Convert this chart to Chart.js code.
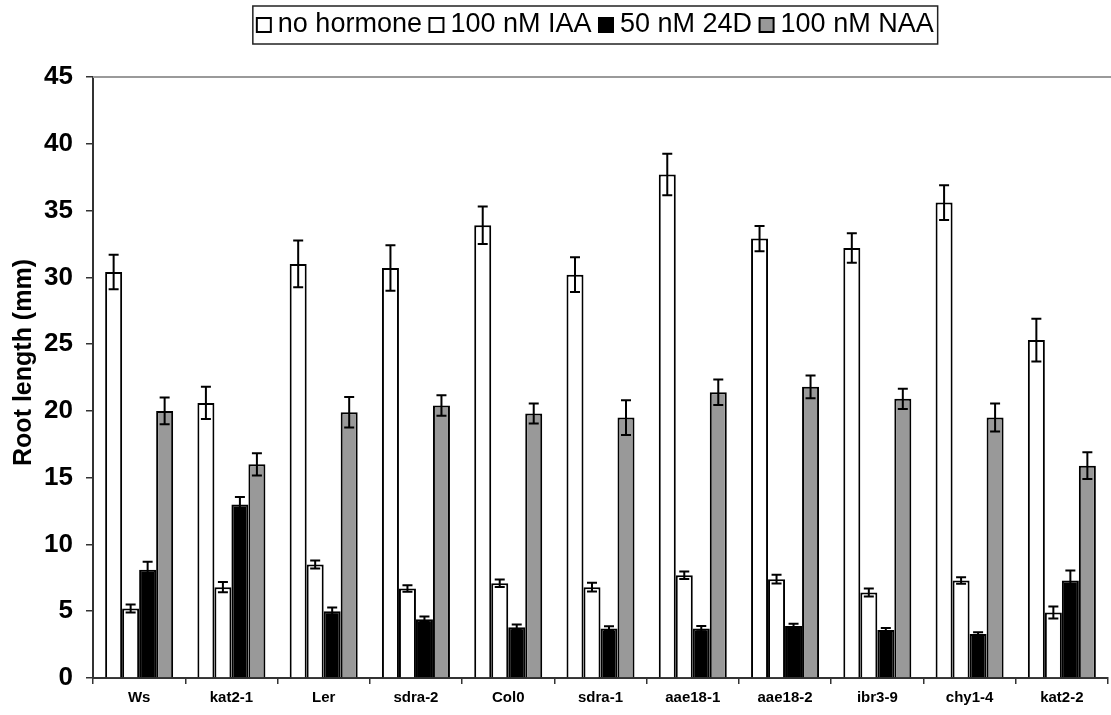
<!DOCTYPE html>
<html>
<head>
<meta charset="utf-8">
<script src="https://cdn.jsdelivr.net/npm/chart.js@4"></script>
<style>
    body { margin: 0; background: #fff; }
    #root_chart { display: block; }
</style>
</head>
<body>
<canvas id="root_chart" width="1111" height="715"></canvas>
<script>
const lines = ['Ws', 'kat2-1', 'Ler', 'sdra-2', 'Col0', 'sdra-1', 'aae18-1', 'aae18-2', 'ibr3-9', 'chy1-4', 'kat2-2']

// mean root length (mm) and error for each treatment
const noHormone = [30.4, 20.6, 31.0, 30.7, 33.9, 30.2, 37.7, 32.9, 32.2, 35.6, 25.3]
const noHormoneErr = [1.3, 1.2, 1.75, 1.7, 1.4, 1.3, 1.55, 0.95, 1.1, 1.3, 1.6]
const iaa = [5.2, 6.8, 8.5, 6.7, 7.1, 6.8, 7.7, 7.4, 6.4, 7.3, 4.9]
const iaaErr = [0.3, 0.38, 0.3, 0.25, 0.28, 0.33, 0.28, 0.33, 0.3, 0.25, 0.45]
const d24 = [8.1, 13.0, 5.0, 4.4, 3.8, 3.7, 3.7, 3.9, 3.6, 3.3, 7.3]
const d24Err = [0.6, 0.55, 0.27, 0.2, 0.2, 0.17, 0.2, 0.17, 0.14, 0.12, 0.75]
const naa = [20.0, 16.0, 19.9, 20.4, 19.8, 19.5, 21.4, 21.8, 20.9, 19.5, 15.9]
const naaErr = [1.0, 0.83, 1.14, 0.77, 0.75, 1.3, 0.95, 0.85, 0.75, 1.05, 1.0]

const yTicks = [0, 5, 10, 15, 20, 25, 30, 35, 40, 45]
const yTitle = 'Root length (mm)'

Chart.defaults.font.family = "'Liberation Sans', Arial, sans-serif"
Chart.defaults.color = '#000'

// error bars drawn on top of each bar through the y scale
const errorBars = {
    id: 'errorBars',
    afterDatasetsDraw(chart) {
        const ctx = chart.ctx
        const y = chart.scales.y
        ctx.save()
        ctx.strokeStyle = '#000'
        ctx.lineWidth = 2
        chart.data.datasets.forEach((ds, i) => {
            const meta = chart.getDatasetMeta(i)
            meta.data.forEach((bar, j) => {
                const v = ds.data[j]
                const e = ds.errors[j]
                const top = y.getPixelForValue(v + e)
                const bottom = y.getPixelForValue(v - e)
                const cap = 5
                ctx.beginPath()
                ctx.moveTo(bar.x, top)
                ctx.lineTo(bar.x, bottom)
                ctx.moveTo(bar.x - cap, top)
                ctx.lineTo(bar.x + cap, top)
                ctx.moveTo(bar.x - cap, bottom)
                ctx.lineTo(bar.x + cap, bottom)
                ctx.stroke()
            })
        })
        ctx.restore()
    }
}

// legend sits above the plot with a frame around it
const legendFrame = {
    id: 'legendFrame',
    afterLayout(chart, args, opts) {
        const lg = chart.legend
        lg.left += opts.dx
        lg.right += opts.dx
        lg.top -= opts.dy
        lg.bottom -= opts.dy
    },
    afterDraw(chart) {
        const boxes = chart.legend.legendHitBoxes
        if (!boxes || !boxes.length) return
        const first = boxes[0]
        const last = boxes[boxes.length - 1]
        const cy = first.top + first.height / 2
        const left = first.left - 10.5
        const right = last.left + last.width + 4
        const ctx = chart.ctx
        ctx.save()
        ctx.strokeStyle = '#222'
        ctx.lineWidth = 1.5
        ctx.strokeRect(left, cy - 19, right - left, 38)
        ctx.restore()
    }
}

// grey frame line along the top of the plot
const topLine = {
    id: 'topLine',
    beforeDatasetsDraw(chart) {
        const a = chart.chartArea
        const ctx = chart.ctx
        ctx.save()
        ctx.strokeStyle = '#9a9a9a'
        ctx.lineWidth = 2
        ctx.beginPath()
        ctx.moveTo(a.left, a.top)
        ctx.lineTo(chart.width, a.top)
        ctx.stroke()
        ctx.restore()
    }
}

// rotated y axis title, set a little above the axis middle
const axisTitle = {
    id: 'axisTitle',
    afterDraw(chart, args, opts) {
        const a = chart.chartArea
        const ctx = chart.ctx
        ctx.save()
        ctx.translate(opts.x, (a.top + a.bottom) / 2 - opts.lift)
        ctx.rotate(-Math.PI / 2)
        ctx.font = "bold 25px 'Liberation Sans', Arial, sans-serif"
        ctx.fillStyle = '#000'
        ctx.textAlign = 'center'
        ctx.textBaseline = 'middle'
        ctx.fillText(yTitle, 0, 0)
        ctx.restore()
    }
}

const data = {
    labels: lines,
    datasets: [
        { label: 'no hormone', data: noHormone, errors: noHormoneErr, backgroundColor: '#fff' },
        { label: '100 nM IAA', data: iaa, errors: iaaErr, backgroundColor: '#fff' },
        { label: '50 nM 24D', data: d24, errors: d24Err, backgroundColor: '#000' },
        { label: '100 nM NAA', data: naa, errors: naaErr, backgroundColor: '#999' }
    ]
}
data.datasets.forEach(ds => {
    ds.borderColor = '#000'
    ds.borderWidth = 2
    ds.categoryPercentage = 0.737
    ds.barPercentage = 1.0
})

const config = {
    type: 'bar',
    data: data,
    plugins: [errorBars, legendFrame, topLine, axisTitle],
    options: {
        responsive: false,
        animation: false,
        layout: {
            padding: { top: 26, right: 3, bottom: 0, left: 0 }
        },
        plugins: {
            legend: {
                position: 'top',
                labels: {
                    usePointStyle: true,
                    pointStyle: 'rect',
                    boxWidth: 1,
                    boxHeight: 14,
                    padding: 14,
                    font: { size: 27 }
                }
            },
            legendFrame: { dx: 44.5, dy: 28.5 },
            axisTitle: { x: 24, lift: 15 },
            tooltip: { enabled: false }
        },
        scales: {
            x: {
                grid: {
                    drawOnChartArea: false,
                    tickLength: 6,
                    color: '#333',
                    lineWidth: 1.5
                },
                border: { color: '#333', width: 2 },
                ticks: {
                    padding: 5,
                    maxRotation: 0,
                    font: { size: 15, weight: 'bold' }
                },
                afterFit(scale) { scale.height = 37 }
            },
            y: {
                min: 0,
                max: 45,
                afterBuildTicks(scale) {
                    scale.ticks = yTicks.map(v => ({ value: v }))
                },
                grid: {
                    drawOnChartArea: false,
                    tickLength: 7,
                    color: '#333',
                    lineWidth: 1.5
                },
                border: { color: '#333', width: 2 },
                ticks: {
                    padding: 13,
                    font: { size: 26, weight: 'bold' }
                },
                afterFit(scale) { scale.width = 93 }
            }
        }
    }
}

const ctx = document.getElementById('root_chart').getContext('2d')
new Chart(ctx, config)
</script>
</body>
</html>
